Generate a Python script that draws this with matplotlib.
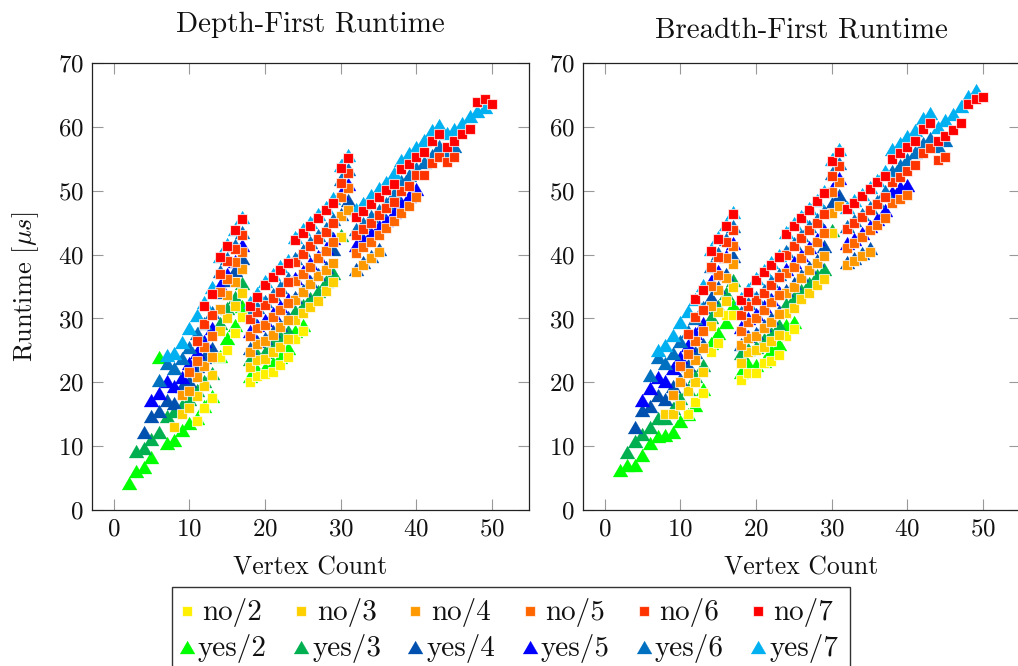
import matplotlib
matplotlib.use("Agg")
import matplotlib.pyplot as plt
from matplotlib.lines import Line2D
from matplotlib.patches import Rectangle

plt.rcParams['font.family'] = ['cmr10', 'DejaVu Serif']
plt.rcParams['mathtext.fontset'] = 'cm'
plt.rcParams['axes.formatter.use_mathtext'] = True

# x ranges of each series (vertex count)
no2_x = list(range(11, 26))
no3_x = list(range(8, 31))
no4_x = list(range(9, 36))
no5_x = list(range(10, 41))
no6_x = list(range(11, 46))
no7_x = list(range(12, 51))
yes2_x = list(range(2, 26))
yes3_x = list(range(3, 31))
yes4_x = list(range(4, 36))
yes5_x = list(range(5, 41))
yes6_x = list(range(6, 46))
yes7_x = list(range(7, 50))

# depth first
dfs_no2 = [14, 16, 17.5, 24, 25, 27.8, 30.3, 20, 21, 21.3, 21.7, 22.8, 24, 26.8, 28]
dfs_no3 = [13, 15, 16, 17.9, 19.5, 21.1, 28, 30.1, 32, 34, 22.4, 23.5, 23.6, 24.7, 25.6, 26.8,
           29.8, 30.8, 31.8, 32.8, 34.3, 35.7, 42.8]
dfs_no4 = [18, 18.7, 20.8, 22.5, 24, 31.5, 33.7, 35.7, 37.8, 24.8, 26, 26.4, 27.4, 28.6, 29.8,
           32.9, 34.1, 35.4, 36.6, 37.6, 38.6, 46, 47, 37.3, 38.4, 39.4, 40.4]
dfs_no5 = [21.6, 23.3, 25.6, 27.2, 34.2, 36.2, 38.8, 40.4, 27.3, 28.5, 29, 30.3, 31.4, 32.4,
           35.8, 37, 38.1, 39.4, 40.6, 42, 49, 50.4, 40.2, 41.1, 42, 43.1, 44.1, 45.2, 46.5, 47.6, 49]
dfs_no6 = [26.5, 29.2, 30.5, 37, 39, 40.9, 43.1, 29.9, 31, 32.1, 33.2, 34.2, 35.7, 38.9, 40.1,
           41.3, 42.4, 43.6, 44.9, 51.2, 52.7, 43, 44, 45, 46.2, 47.2, 48.2, 50, 50.7, 52.5, 52.5,
           54.3, 55.3, 54.4, 55.3]
dfs_no7 = [32, 33.8, 39.6, 41.4, 43.8, 45.5, 32, 33.4, 35.3, 36.5, 37.6, 38.6, 42.2, 43.4, 44.5,
           45.7, 46.9, 48.1, 53.6, 55.05, 45.8, 46.8, 47.9, 49, 50.1, 51.1, 53.3, 54.2, 55.2, 56.1,
           57.8, 58.8, 56.8, 57.8, 58.8, 59.7, 63.9, 64.4, 63.5]
dfs_yes2 = [4.2, 6.2, 6.7, 8.3, 24, 10.6, 11, 12.5, 13.6, 14.4, 16.3, 17.8, 24.2, 26.9, 29, 31.9,
            21, 22, 22.2, 23, 24, 25.4, 28, 29]
dfs_yes3 = [9.2, 9.7, 11.1, 12.3, 14.7, 15.5, 16.5, 17.4, 18.8, 20.2, 21.5, 29.3, 31.6, 33.3, 35.5,
            23.6, 24.4, 24.8, 26.1, 27.2, 28, 31.1, 32.1, 33.2, 34.3, 35.8, 37.1, 43.1]
dfs_yes4 = [12.3, 14.7, 15.6, 17.3, 16.8, 19.4, 20.2, 22.5, 24, 25.4, 34.2, 36, 37.6, 39.4,
            25.4, 26.4, 27, 28, 29, 30.3, 33.3, 34.5, 35.8, 37, 38, 40.9, 46.4, 48.5,
            37.8, 38.8, 39.8, 40.8]
dfs_yes5 = [17.3, 18.3, 20.2, 19.4, 20.9, 23, 24.8, 26.4, 28.5, 35.3, 37, 39, 41.5,
            28, 29, 29.8, 30.9, 32, 33, 36.3, 37.5, 38.6, 39.8, 41, 42.6, 49.6, 51,
            41.5, 42.5, 43.3, 44.4, 45.4, 46.6, 48.1, 49.2, 50.2]
dfs_yes6 = [20.3, 23, 22.2, 23.8, 25.6, 27.7, 29.3, 31, 37.5, 39.5, 41.5, 43.6,
            30.5, 31.8, 32.8, 33.9, 35, 36.3, 39.5, 40.7, 42, 43, 44.2, 45.5, 51.8, 53.3,
            44, 45, 46, 47, 48, 49.6, 51.5, 52.4, 53.5, 54.5, 55.6, 56.9, 56, 57]
dfs_yes7 = [24.3, 24.6, 26.3, 28.5, 30.6, 32.5, 35, 39.8, 41.7, 44, 45.8,
            32.6, 34, 35.8, 37, 38.2, 39.2, 42.8, 44, 45.1, 46.3, 47.5, 48.8, 54, 55.5,
            47.1, 48.1, 49.3, 50.4, 51.4, 52.7, 54.8, 55.8, 56.8, 57.9, 59.5, 60.2, 59, 59.7,
            60.5, 61.6, 62.4, 63]

# breadth first
bfs_no2 = [15, 17, 18.3, 24.7, 26.1, 30.6, 30.6, 20.4, 21.4, 21.4, 23, 23.3, 24.3, 27.3, 28.3]
bfs_no3 = [15, 15, 16.4, 18.6, 20, 21.7, 28.8, 31, 32.7, 34.9, 23.1, 24.8, 25, 25.5, 26.4, 27.4,
           30.8, 31.7, 33, 34, 35.3, 36.1, 43.4]
bfs_no4 = [18.1, 20, 21.4, 23.5, 25.4, 32, 34.5, 36.4, 38.5, 25.8, 27, 27.2, 28.5, 29.5, 30.7,
           34, 35, 36.3, 37.6, 38.6, 39.8, 46.5, 47.6, 38.4, 39, 39.7, 40.4]
bfs_no5 = [22.5, 24.4, 26.5, 28, 35.1, 36.8, 39.4, 41.3, 28.1, 29.4, 30.1, 31.4, 32.5, 33.7,
           37.1, 38.1, 39.4, 40.7, 41.9, 43.3, 49.8, 51.3, 41, 41.8, 42.8, 43.8, 44.6, 45.7, 48, 48.7, 49.3]
bfs_no6 = [27.5, 30.3, 31.4, 38, 39.6, 41.9, 43.9, 30.5, 31.9, 32.9, 34, 35.3, 36.5, 40, 41.3,
           42.6, 43.9, 45, 46.4, 52.3, 53.8, 44, 44.9, 45.9, 47, 47.9, 49, 51.4, 52.2, 53.1, 54,
           55.8, 56.6, 54.8, 55.3]
bfs_no7 = [33, 34.5, 40.5, 42.4, 44.4, 46.3, 32.9, 34.2, 36, 37.2, 38.4, 39.6, 43.2, 44.5, 45.7,
           47, 48.3, 49.6, 54.6, 56.1, 47.1, 48, 49.1, 50.2, 51.3, 52.3, 55, 55.8, 56.8, 57.8,
           59.6, 60.5, 57.7, 58.6, 59.5, 60.5, 63.6, 64.3, 64.6]
bfs_yes2 = [6.25, 7.1, 7.1, 8.7, 10.5, 11.6, 11.7, 12.3, 14, 15, 16.5, 19, 26.1, 27.7, 29.5, 32.1,
            21.7, 22.9, 22.8, 23.4, 25, 26, 29, 29.5]
bfs_yes3 = [9.1, 10.8, 11.9, 13.1, 14.4, 14.4, 16, 17.5, 19, 21, 22.8, 30.2, 31.9, 34, 36,
            24.6, 25.2, 25.5, 26.8, 27.8, 29, 32.2, 33.3, 34.5, 35.6, 36.8, 37.8, 43.8]
bfs_yes4 = [13.1, 15.7, 16.25, 18.1, 17.4, 19.4, 20.5, 22.7, 24.8, 26, 33.4, 35, 37, 39.7,
            26, 27.2, 27.8, 29, 30, 31.2, 34.5, 35.6, 36.8, 38, 39.2, 41.3, 48.1, 49.3,
            38.8, 39.5, 40.2, 41]
bfs_yes5 = [17.3, 19.1, 20.9, 20.2, 22.2, 24, 25.9, 27.7, 29.3, 35.8, 37.5, 39.8, 41.8,
            28.6, 30, 30.7, 32, 33, 34.2, 37.7, 38.8, 40, 41.2, 42.4, 43.8, 50.2, 52,
            41.8, 42.5, 43.4, 44.5, 45.5, 47, 49.8, 50.6, 50.8]
bfs_yes6 = [21.2, 24, 23, 24.6, 26.4, 28, 30, 31.8, 38.2, 40.2, 42.4, 44.4,
            31, 32.4, 33.4, 34.5, 35.8, 37, 40.6, 41.8, 43, 44.4, 45.5, 46.8, 52.8, 54.3,
            44.5, 45.4, 46.4, 47.5, 48.4, 49.9, 53, 54, 55, 56, 57.4, 58.2, 57, 57.9]
bfs_yes7 = [25.1, 25.9, 27.4, 29.5, 31.1, 33, 35.3, 40.8, 42.8, 44.7, 46.6,
            33.2, 34.6, 36.3, 37.6, 38.8, 40, 43.6, 44.9, 46, 47.3, 48.6, 49.9, 55, 56.5,
            47.5, 48.5, 49.5, 50.5, 51.7, 53, 56.5, 57.5, 58.5, 59.5, 61.3, 62.2, 59.9, 61,
            62, 63.2, 64.8, 65.7]

no_colors = ['#FFF000', '#FFD000', '#FF9900', '#FF6600', '#FF3300', '#FF0000']
yes_colors = ['#00FF00', '#00B050', '#0050B0', '#0000FF', '#0070C0', '#00B0F0']
no_labels = ['no/2', 'no/3', 'no/4', 'no/5', 'no/6', 'no/7']
yes_labels = ['yes/2', 'yes/3', 'yes/4', 'yes/5', 'yes/6', 'yes/7']
no_xs = [no2_x, no3_x, no4_x, no5_x, no6_x, no7_x]
yes_xs = [yes2_x, yes3_x, yes4_x, yes5_x, yes6_x, yes7_x]

W, H = 1018, 666
fig = plt.figure(figsize=(W / 100, H / 100), dpi=100)

# wider than tall triangle, like the tikz one
tri = [(-1, -13 / 15), (1, -13 / 15), (0, 13 / 15)]
sq_edge = (1, 1, 1, 0.7)


def panel(left, title, title_pad, no_vals, yes_vals):
    ax = fig.add_axes([left / W, (H - 510.3) / H, 436.3 / W, 447.6 / H])
    for x, y, c in zip(yes_xs, yes_vals, yes_colors):
        ax.plot(x, y, ls='none', marker=tri, ms=10.8, color=c, mec=c, mew=0.2, zorder=2)
    for x, y, c in zip(no_xs, no_vals, no_colors):
        ax.plot(x, y, ls='none', marker='s', ms=7.6, color=c, mec=sq_edge, mew=0.8, zorder=3)
    ax.set_xlim(-2.8, 54.8)
    ax.set_ylim(0, 70)
    ax.set_xticks([0, 10, 20, 30, 40, 50])
    ax.set_yticks([0, 10, 20, 30, 40, 50, 60, 70])
    ax.tick_params(direction='in', length=8, width=0.8, color='#999999', labelcolor='#111111',
                   top=True, right=True, labelsize=18, pad=6)
    for s in ax.spines.values():
        s.set_linewidth(0.9)
        s.set_color('#222222')
    ax.set_xlabel('Vertex Count', fontsize=18.5, labelpad=10.5, color='#111111')
    ax.set_title(title, fontsize=20.9, pad=title_pad, color='#111111')
    return ax


ax1 = panel(92.3, 'Depth-First Runtime', 21.8,
            [dfs_no2, dfs_no3, dfs_no4, dfs_no5, dfs_no6, dfs_no7],
            [dfs_yes2, dfs_yes3, dfs_yes4, dfs_yes5, dfs_yes6, dfs_yes7])
ax1.set_ylabel(r'Runtime [$\mu s$]', fontsize=19, labelpad=12, color='#111111')

ax2 = panel(583.3, 'Breadth-First Runtime', 18.5,
            [bfs_no2, bfs_no3, bfs_no4, bfs_no5, bfs_no6, bfs_no7],
            [bfs_yes2, bfs_yes3, bfs_yes4, bfs_yes5, bfs_yes6, bfs_yes7])

# legend box, shared by both plots, runs off the bottom of the page
fig.add_artist(Rectangle((172 / W, -8 / H), 678 / W, (666 + 8 - 587) / H, transform=fig.transFigure,
                         fc='white', ec='#333333', lw=1.0))
for i in range(6):
    hx = (187 + 114.2 * i) / W
    tx = (232.5 + 114.2 * i) / W
    fig.add_artist(Line2D([hx], [(H - 611) / H], ls='none', marker='s', ms=7.2, color=no_colors[i],
                          mec=sq_edge, mew=0.8, transform=fig.transFigure))
    fig.add_artist(Line2D([hx], [(H - 647) / H], ls='none', marker=tri, ms=10.8, color=yes_colors[i],
                          mec=yes_colors[i], mew=0.2, transform=fig.transFigure))
    fig.text(tx, (H - 620) / H, no_labels[i], fontsize=21, ha='center', va='baseline', color='#111111')
    fig.text(tx, (H - 656) / H, yes_labels[i], fontsize=21, ha='center', va='baseline', color='#111111')

fig.savefig('out.png', dpi=100)
